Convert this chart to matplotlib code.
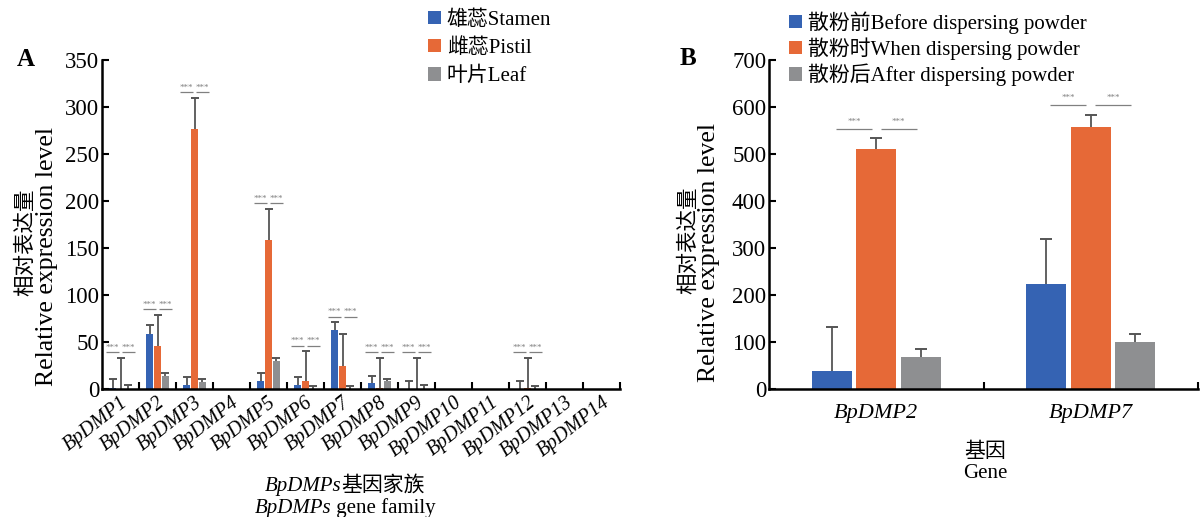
import numpy as np
import matplotlib
matplotlib.use('Agg')
import matplotlib.pyplot as plt
from matplotlib.offsetbox import TextArea, HPacker, AnnotationBbox

# fonts: Times-like latin, CJK falls back
FONTS = ['Liberation Serif', 'Noto Sans CJK SC']
plt.rcParams['font.family'] = FONTS

# ---- panel A data ----
genes_a = ['BpDMP%d' % i for i in range(1, 15)]
stamen = [1, 59, 4.5, 0, 8.5, 4.5, 63, 6, 0.3, 0, 0, 0.3, 0, 0]
stamen_err = [9.5, 9, 8.5, 0, 8.5, 8, 8, 8, 8.7, 0, 0, 7.7, 0, 0]
pistil = [0.5, 46, 277, 0, 159, 8.5, 24, 1, 0.5, 0, 0, 1, 0, 0]
pistil_err = [33, 33, 33, 0, 33, 31.5, 34, 32, 32.5, 0, 0, 32, 0, 0]
leaf = [0.3, 14, 7, 0, 30, 0.5, 0.5, 8, 0.3, 0, 0, 0.3, 0, 0]
leaf_err = [3.5, 3, 4, 0, 3, 2.5, 2.5, 2.5, 3.5, 0, 0, 2.7, 0, 0]
sig_a = [0, 1, 2, 4, 5, 6, 7, 8, 11]
labels_a = ['雄蕊Stamen', '雌蕊Pistil', '叶片Leaf']

# ---- panel B data ----
genes_b = ['BpDMP2', 'BpDMP7']
before = [38, 224]
before_err = [94, 96]
during = [510, 558]
during_err = [25, 26]
after = [69, 100]
after_err = [16, 16]
sig_b_level = [554, 605]
labels_b = ['散粉前Before dispersing powder', '散粉时When dispersing powder',
            '散粉后After dispersing powder']

colors = ['#3563B3', '#E66937', '#8E8F91']
ecol = '#555555'
scol = '#808080'


def style_axes(ax, n, ymax, step):
    for s in ['top', 'right']:
        ax.spines[s].set_visible(False)
    for s in ['left', 'bottom']:
        ax.spines[s].set_linewidth(1.8)
    ax.set_xlim(-0.5, n - 0.5)
    ax.set_ylim(0, ymax)
    ax.set_yticks(np.arange(0, ymax + 1, step))
    ax.set_xticks(np.arange(n) + 0.5, minor=True)
    ax.tick_params(axis='x', which='major', length=0, pad=3)
    ax.tick_params(axis='x', which='minor', direction='in', length=5, width=1.5)
    ax.tick_params(axis='y', direction='in', length=5, width=1.5, labelsize=16.5, pad=2)


def draw_bars(ax, series, errs, width, off, capsize):
    x = np.arange(len(series[0]))
    handles = []
    for k, (vals, err) in enumerate(zip(series, errs)):
        vals = np.array(vals, float)
        err = np.array(err, float)
        xs = x + (k - 1) * off
        h = ax.bar(xs, vals, width, color=colors[k], linewidth=0, zorder=2)
        handles.append(h)
        m = err > 0
        eb = ax.errorbar(xs[m], vals[m], yerr=[np.zeros(m.sum()), err[m]], fmt='none',
                         ecolor=ecol, elinewidth=1.3, capsize=capsize, capthick=1.4, zorder=1)
        # only keep the upper cap
        eb[1][0].set_visible(False)
    return handles


def stars(ax, x, y, w, gap):
    ax.plot([x - w / 2, x + w / 2], [y, y], color=scol, lw=0.9, solid_capstyle='butt')
    ax.text(x, y + gap, '***', ha='center', va='bottom', fontsize=6.5, color=scol)


fig = plt.figure(figsize=(12.01, 5.17), dpi=100)

# ---------- A ----------
axA = fig.add_axes([102 / 1201, 1 - 389 / 517, 518 / 1201, 329 / 517])
offA = 0.216
hA = draw_bars(axA, [stamen, pistil, leaf], [stamen_err, pistil_err, leaf_err], 0.19, offA, 3)
style_axes(axA, 14, 350, 50)
axA.set_xticks(np.arange(14))
axA.set_xticklabels(genes_a, rotation=38, ha='right', rotation_mode='anchor',
                    fontstyle='italic', fontsize=14.5)
for i in sig_a:
    top = max(stamen[i] + stamen_err[i], pistil[i] + pistil_err[i], leaf[i] + leaf_err[i])
    for xx in (i - offA, i + offA):
        stars(axA, xx, top + 6, 0.36, 0.5)

fig.legend(hA, labels_a, loc='upper left', bbox_to_anchor=(428 / 1201, 1 - 10 / 517),
           frameon=False, fontsize=15, handlelength=0.6, handleheight=0.6,
           handletextpad=0.3, labelspacing=0.42, borderpad=0, borderaxespad=0)

fig.text(26 / 1201, 1 - 242 / 517, '相对表达量', rotation=90, ha='center', va='center', fontsize=15.5)
fig.text(47 / 1201, 1 - 257 / 517, 'Relative expression level', rotation=90, ha='center',
         va='center', fontsize=18.5)
fig.text(26 / 1201, 1 - 60 / 517, 'A', fontsize=18, fontweight='bold', ha='center', va='center')


def mixed(parts, xy):
    boxes = [TextArea(t, textprops=dict(fontstyle=st, family=FONTS, fontsize=15)) for t, st in parts]
    pack = HPacker(children=boxes, align='baseline', pad=0, sep=0)
    ab = AnnotationBbox(pack, xy, xycoords='figure fraction', frameon=False,
                        box_alignment=(0.5, 0.5), pad=0)
    fig.add_artist(ab)


mixed([('BpDMPs', 'italic'), ('基因家族', 'normal')], (345 / 1201, 1 - 486 / 517))
mixed([('BpDMPs', 'italic'), (' gene family', 'normal')], (345 / 1201, 1 - 508 / 517))

# ---------- B ----------
axB = fig.add_axes([769 / 1201, 1 - 389 / 517, 429 / 1201, 329 / 517])
offB = 0.208
hB = draw_bars(axB, [before, during, after], [before_err, during_err, after_err], 0.187, offB, 4)
style_axes(axB, 2, 700, 100)
axB.set_xticks(np.arange(2))
axB.set_xticklabels(genes_b, fontstyle='italic', fontsize=16)
axB.tick_params(axis='x', which='major', pad=11)
for i, lev in enumerate(sig_b_level):
    for xx in (i - offB / 2, i + offB / 2):
        stars(axB, xx, lev, 0.168, 6)

fig.legend(hB, labels_b, loc='upper left', bbox_to_anchor=(789 / 1201, 1 - 11 / 517),
           frameon=False, fontsize=15, handlelength=0.6, handleheight=0.6,
           handletextpad=0.3, labelspacing=0.18, borderpad=0, borderaxespad=0)

fig.text(689 / 1201, 1 - 240 / 517, '相对表达量', rotation=90, ha='center', va='center', fontsize=15.5)
fig.text(709 / 1201, 1 - 252 / 517, 'Relative expression level', rotation=90, ha='center',
         va='center', fontsize=18.5)
fig.text(688 / 1201, 1 - 58 / 517, 'B', fontsize=18, fontweight='bold', ha='center', va='center')
fig.text(985 / 1201, 1 - 452 / 517, '基因', ha='center', va='center', fontsize=15)
fig.text(985 / 1201, 1 - 473 / 517, 'Gene', ha='center', va='center', fontsize=15)

fig.savefig('out.png', dpi=100)
